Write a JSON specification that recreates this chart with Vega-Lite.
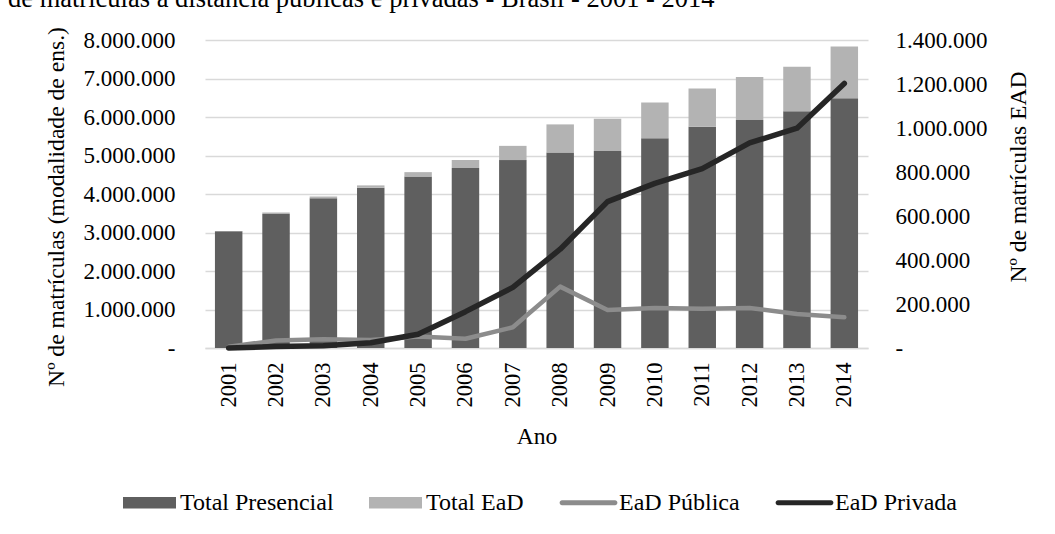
{
  "$schema": "https://vega.github.io/schema/vega-lite/v6.json",
  "autosize": {"type": "none"},
  "padding": {"left": 205, "top": 40, "right": 187, "bottom": 186},
  "width": 663,
  "height": 308,
  "background": "#ffffff",
  "title": {
    "text": "de matrículas a distância públicas e privadas - Brasil - 2001 - 2014",
    "anchor": "start", "frame": "group", "fontSize": 26.5, "fontWeight": "normal",
    "font": "Liberation Serif, Times New Roman, Tinos, DejaVu Serif, serif", "color": "#000000", "dx": -197, "dy": 7, "offset": 0,
    "baseline": "alphabetic"
  },
  "datasets": {
    "barras": [
      {"ano": "2001", "serie": "Total Presencial", "ordem": 1, "valor": 3030754},
      {"ano": "2002", "serie": "Total Presencial", "ordem": 1, "valor": 3479913},
      {"ano": "2003", "serie": "Total Presencial", "ordem": 1, "valor": 3887022},
      {"ano": "2004", "serie": "Total Presencial", "ordem": 1, "valor": 4163733},
      {"ano": "2005", "serie": "Total Presencial", "ordem": 1, "valor": 4453156},
      {"ano": "2006", "serie": "Total Presencial", "ordem": 1, "valor": 4676646},
      {"ano": "2007", "serie": "Total Presencial", "ordem": 1, "valor": 4880381},
      {"ano": "2008", "serie": "Total Presencial", "ordem": 1, "valor": 5080056},
      {"ano": "2009", "serie": "Total Presencial", "ordem": 1, "valor": 5115896},
      {"ano": "2010", "serie": "Total Presencial", "ordem": 1, "valor": 5449120},
      {"ano": "2011", "serie": "Total Presencial", "ordem": 1, "valor": 5746762},
      {"ano": "2012", "serie": "Total Presencial", "ordem": 1, "valor": 5923838},
      {"ano": "2013", "serie": "Total Presencial", "ordem": 1, "valor": 6152405},
      {"ano": "2014", "serie": "Total Presencial", "ordem": 1, "valor": 6486171},
      {"ano": "2001", "serie": "Total EaD", "ordem": 2, "valor": 5359},
      {"ano": "2002", "serie": "Total EaD", "ordem": 2, "valor": 40714},
      {"ano": "2003", "serie": "Total EaD", "ordem": 2, "valor": 49911},
      {"ano": "2004", "serie": "Total EaD", "ordem": 2, "valor": 59611},
      {"ano": "2005", "serie": "Total EaD", "ordem": 2, "valor": 114642},
      {"ano": "2006", "serie": "Total EaD", "ordem": 2, "valor": 207206},
      {"ano": "2007", "serie": "Total EaD", "ordem": 2, "valor": 369766},
      {"ano": "2008", "serie": "Total EaD", "ordem": 2, "valor": 727961},
      {"ano": "2009", "serie": "Total EaD", "ordem": 2, "valor": 838125},
      {"ano": "2010", "serie": "Total EaD", "ordem": 2, "valor": 930179},
      {"ano": "2011", "serie": "Total EaD", "ordem": 2, "valor": 992927},
      {"ano": "2012", "serie": "Total EaD", "ordem": 2, "valor": 1113850},
      {"ano": "2013", "serie": "Total EaD", "ordem": 2, "valor": 1153572},
      {"ano": "2014", "serie": "Total EaD", "ordem": 2, "valor": 1341842}
    ],
    "linhas": [
      {"ano": "2001", "serie": "EaD Pública", "valor": 5359},
      {"ano": "2002", "serie": "EaD Pública", "valor": 34322},
      {"ano": "2003", "serie": "EaD Pública", "valor": 39804},
      {"ano": "2004", "serie": "EaD Pública", "valor": 35989},
      {"ano": "2005", "serie": "EaD Pública", "valor": 52000},
      {"ano": "2006", "serie": "EaD Pública", "valor": 42061},
      {"ano": "2007", "serie": "EaD Pública", "valor": 94209},
      {"ano": "2008", "serie": "EaD Pública", "valor": 278988},
      {"ano": "2009", "serie": "EaD Pública", "valor": 172696},
      {"ano": "2010", "serie": "EaD Pública", "valor": 181602},
      {"ano": "2011", "serie": "EaD Pública", "valor": 177924},
      {"ano": "2012", "serie": "EaD Pública", "valor": 181624},
      {"ano": "2013", "serie": "EaD Pública", "valor": 154553},
      {"ano": "2014", "serie": "EaD Pública", "valor": 139373},
      {"ano": "2001", "serie": "EaD Privada", "valor": 0},
      {"ano": "2002", "serie": "EaD Privada", "valor": 6392},
      {"ano": "2003", "serie": "EaD Privada", "valor": 10107},
      {"ano": "2004", "serie": "EaD Privada", "valor": 23622},
      {"ano": "2005", "serie": "EaD Privada", "valor": 62642},
      {"ano": "2006", "serie": "EaD Privada", "valor": 165145},
      {"ano": "2007", "serie": "EaD Privada", "valor": 275557},
      {"ano": "2008", "serie": "EaD Privada", "valor": 448973},
      {"ano": "2009", "serie": "EaD Privada", "valor": 665429},
      {"ano": "2010", "serie": "EaD Privada", "valor": 748577},
      {"ano": "2011", "serie": "EaD Privada", "valor": 815003},
      {"ano": "2012", "serie": "EaD Privada", "valor": 932226},
      {"ano": "2013", "serie": "EaD Privada", "valor": 999019},
      {"ano": "2014", "serie": "EaD Privada", "valor": 1202469}
    ]
  },
  "encoding": {
    "x": {
      "field": "ano", "type": "nominal",
      "scale": {"paddingInner": 0.42, "paddingOuter": 0.21},
      "axis": {
        "labelAngle": 270, "labelPadding": 14, "ticks": false,
        "domainColor": "#d9d9d9", "domainWidth": 1.5, "labelFontSize": 22.5,
        "title": "Ano", "titleY": 95, "titleBaseline": "alphabetic"
      }
    },
    "color": {
      "field": "serie", "type": "nominal",
      "scale": {
        "domain": ["Total Presencial", "Total EaD", "EaD Pública", "EaD Privada"],
        "range": ["#5f5f5f", "#b3b3b3", "#8c8c8c", "#262626"]
      },
      "legend": {
        "orient": "none", "legendX": -82, "legendY": 436, "direction": "horizontal",
        "title": null, "labelFontSize": 24, "labelFont": "Liberation Serif, Times New Roman, Tinos, DejaVu Serif, serif", "labelColor": "#000000",
        "symbolSize": 2809, "labelOffset": 4, "columnPadding": 35, "symbolStrokeWidth": 0,
        "encode": {
          "symbols": {
            "update": {
              "shape": {"signal": "datum.value == 'Total Presencial' || datum.value == 'Total EaD' ? 'M-1,-0.22H1V0.22H-1Z' : 'M-1,-0.09H1A0.09,0.09 0 0 1 1,0.09H-1A0.09,0.09 0 0 1 -1,-0.09Z'"},
              "fill": {"scale": "color", "field": "value"},
              "stroke": {"value": "transparent"},
              "strokeWidth": {"value": 0},
              "opacity": {"value": 1},
              "fillOpacity": {"value": 1}
            }
          }
        }
      }
    }
  },
  "layer": [
    {
      "data": {"name": "barras"},
      "mark": {"type": "bar"},
      "encoding": {
        "y": {
          "field": "valor", "type": "quantitative", "aggregate": "sum", "stack": "zero",
          "scale": {"domain": [0, 8000000], "nice": false},
          "axis": {
            "values": [0, 1000000, 2000000, 3000000, 4000000, 5000000, 6000000, 7000000, 8000000],
            "labelExpr": "datum.value == 0 ? '-' : format(datum.value, ',')",
            "domain": false, "ticks": false, "grid": true, "gridColor": "#d9d9d9", "gridWidth": 1.5,
            "labelPadding": 30,
            "title": "Nº de matrículas (modalidade de ens.)",
            "titleAngle": 270, "titleX": -149, "titleY": 166.5, "titleAlign": "center", "titleBaseline": "middle"
          }
        },
        "order": {"field": "ordem", "type": "quantitative"}
      }
    },
    {
      "data": {"name": "linhas"},
      "encoding": {
        "y": {
          "field": "valor", "type": "quantitative",
          "scale": {"domain": [0, 1400000], "nice": false},
          "axis": {
            "orient": "right",
            "values": [0, 200000, 400000, 600000, 800000, 1000000, 1200000, 1400000],
            "labelExpr": "datum.value == 0 ? '-' : format(datum.value, ',')",
            "domain": false, "ticks": false, "grid": false,
            "labelPadding": 27,
            "title": "Nº de matrículas EAD",
            "titleAngle": 270, "titleX": 150, "titleY": 136.5, "titleAlign": "center", "titleBaseline": "middle"
          }
        }
      },
      "layer": [
        {
          "transform": [{"filter": "datum.serie == 'EaD Pública'"}],
          "mark": {"type": "line", "strokeWidth": 4.5, "strokeCap": "round", "strokeJoin": "round"}
        },
        {
          "transform": [{"filter": "datum.serie == 'EaD Privada'"}],
          "mark": {"type": "line", "strokeWidth": 5.5, "strokeCap": "round", "strokeJoin": "round"}
        }
      ]
    }
  ],
  "resolve": {"scale": {"y": "independent"}},
  "config": {
    "font": "Liberation Serif, Times New Roman, Tinos, DejaVu Serif, serif",
    "locale": {"number": {"decimal": ",", "thousands": ".", "grouping": [3], "currency": ["R$ ", ""]}},
    "view": {"stroke": null},
    "axis": {
      "labelFont": "Liberation Serif, Times New Roman, Tinos, DejaVu Serif, serif", "labelFontSize": 23, "labelColor": "#000000",
      "titleFont": "Liberation Serif, Times New Roman, Tinos, DejaVu Serif, serif", "titleFontSize": 23.6, "titleFontWeight": "normal", "titleColor": "#000000"
    }
  }
}
